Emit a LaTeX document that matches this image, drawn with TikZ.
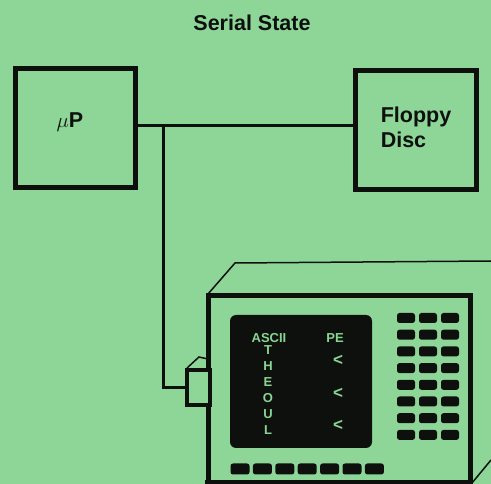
\documentclass[tikz,border=0pt]{standalone}
\usepackage{fontspec}
\setmainfont{Liberation Sans}
\usetikzlibrary{positioning, calc}
\definecolor{paperGreen}{RGB}{141,214,152}
\definecolor{screenGreen}{RGB}{136,212,146}
\definecolor{inkBlack}{RGB}{14,16,14}
\newcommand{\DrawKey}[4]{
    \fill[inkBlack, rounded corners=2.5pt] (#1-#3/2,#2-#4/2) rectangle (#1+#3/2,#2+#4/2);
}
\tikzset{
    unitBox/.style={draw=inkBlack, line width=5pt, inner sep=0pt},
    bigText/.style={font=\bfseries\fontsize{21.5}{25}\selectfont, text=inkBlack},
    screenText/.style={font=\bfseries\fontsize{13}{15}\selectfont, text=screenGreen, inner sep=0pt},
    markText/.style={font=\bfseries\fontsize{17}{19}\selectfont, text=screenGreen, inner sep=0pt},
    busLine/.style={draw=inkBlack, line width=3pt},
}

\begin{document}
\begin{tikzpicture}[x=1pt, y=-1pt]
        \useasboundingbox[fill=paperGreen] (0,0) rectangle (491,484);
        % Title
        \node[bigText] (title) at (252,23) {Serial State};

        % Processor and disc
        \node[unitBox, minimum width=120pt, minimum height=119pt] (up) at (75,128.5) {};
        \node[bigText] (upLabel) at (70,122) {$\mu$P};
        \node[unitBox, minimum width=121pt, minimum height=119pt] (floppy) at (415.5,130.5) {};
        \node[bigText, align=left, inner sep=0pt] (floppyLabel) at (416,127) {Floppy\\Disc};

        % Terminal housing
        \draw[inkBlack, line width=1.5pt] (208,294) -- (235,263) -- (491,261);
        \draw[inkBlack, line width=1.5pt] (472,483) -- (491,460);
        \draw[inkBlack, line width=5pt] (208,490) -- (208,296) -- (470,296) -- (470,490);
        \draw[inkBlack, line width=4pt] (205,482) -- (473,482);

        % Screen
        \fill[inkBlack, rounded corners=6pt] (230,315) rectangle (372,448);
        \node[screenText] (ascii) at (269,338) {ASCII};
        \node[screenText] (pe) at (335,338) {PE};
        \foreach \ch [count=\i] in {T,H,E,O,U,L} {
            \node[screenText] (row\i) at (268,334+16*\i) {\ch};
        }
        \foreach \y [count=\i] in {360,393,425} {
            \node[markText] (mark\i) at (338,\y) {<};
        }

        % Keypad
        \foreach \r in {0,...,7} {
            \foreach \c in {0,1,2} {
                \DrawKey{406+22*\c}{318+16.7*\r}{18}{10}
            }
        }
        \foreach \k in {0,...,6} {
            \DrawKey{240+22.4*\k}{469}{19}{11}
        }

        % Plug
        \node[unitBox, line width=4pt, fill=paperGreen, minimum width=23pt, minimum height=35pt] (plug) at (198.5,387.5) {};
        \draw[inkBlack, line width=1.5pt] ($(plug.north west)+(2,0)$) -- ++(12,-11) -- (208,359);

        % Bus
        \coordinate (tap) at (163,126);
        \draw[busLine] (up.east |- tap) -- (floppy.west |- tap);
        \draw[busLine] (tap) |- (plug.west);
    \end{tikzpicture}
\end{document}
